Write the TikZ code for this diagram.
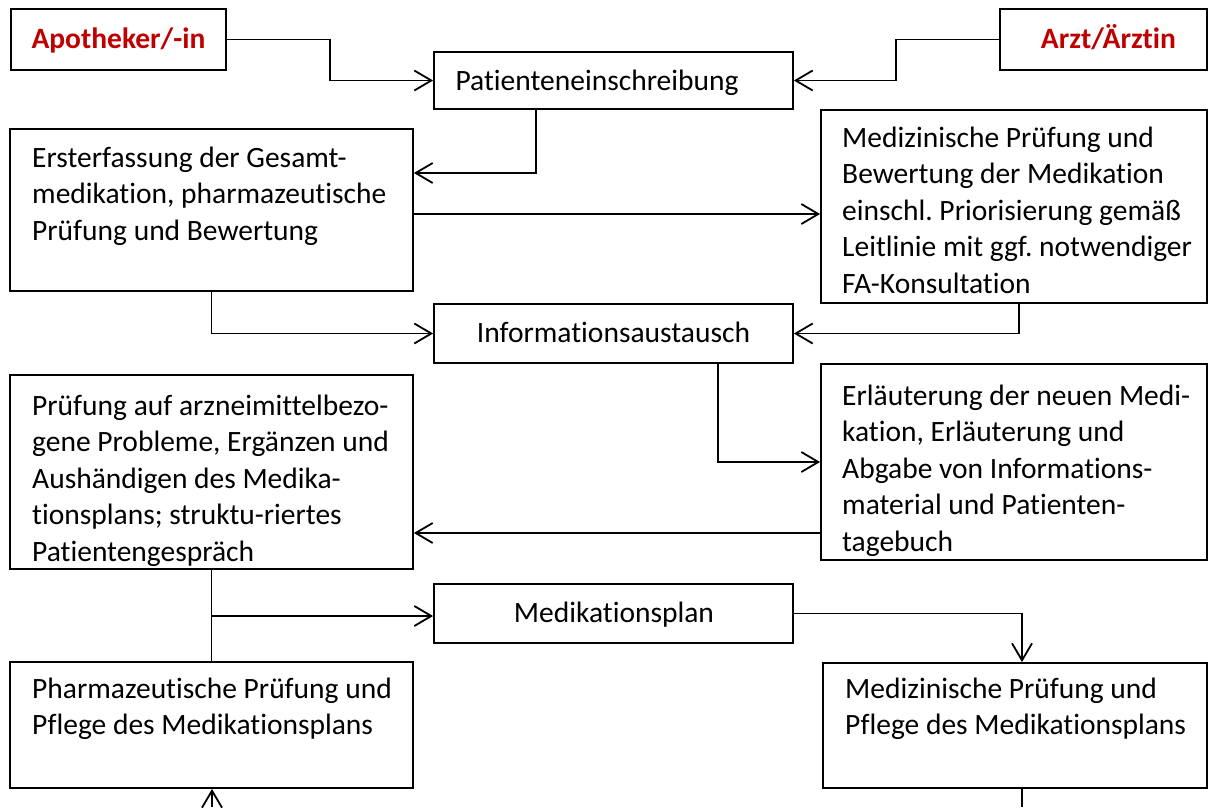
\documentclass[tikz,border=0pt]{standalone}
\usepackage{fontspec}
\setmainfont[Ligatures=NoCommon]{Carlito}
\usetikzlibrary{arrows.meta}
\definecolor{rolered}{HTML}{C00000}
\frenchspacing
\newcommand\blocktext[1]{\parbox[t]{400pt}{\raggedright #1}}
\begin{document}
\begin{tikzpicture}[x=1pt,y=-1pt,
  box/.style={draw, line width=1.8pt, rectangle, inner sep=0pt},
  txt/.style={inner sep=0pt, font=\fontsize{29.5}{36.5}\selectfont},
  role/.style={txt, anchor=base, text=rolered, font=\fontsize{29.5}{36.5}\selectfont\bfseries},
  conn/.style={line width=1.8pt},
  arr/.style={conn, -{Straight Barb[length=17pt,width=20pt,line width=1.8pt]}}]

% canvas
\fill[white] (0,0) rectangle (1208,807);
\useasboundingbox (0,0) rectangle (1208,807);

% boxes
\node[box, minimum width=215pt, minimum height=61pt]  (apo)   at (118.5,39.5) {};
\node[box, minimum width=207pt, minimum height=61pt]  (arzt)  at (1103.5,39.5) {};
\node[box, minimum width=359pt, minimum height=57pt]  (pat)   at (613.5,80.5) {};
\node[box, minimum width=403pt, minimum height=162pt] (ers)   at (211.5,210) {};
\node[box, minimum width=386pt, minimum height=193pt] (med)   at (1014,206.5) {};
\node[box, minimum width=359pt, minimum height=59pt]  (info)  at (613.5,333.5) {};
\node[box, minimum width=403pt, minimum height=194pt] (pru)   at (211.5,472) {};
\node[box, minimum width=386pt, minimum height=196pt] (erl)   at (1014,462) {};
\node[box, minimum width=359pt, minimum height=59pt]  (mplan) at (613.5,613.5) {};
\node[box, minimum width=403pt, minimum height=126pt] (pharm) at (211.5,725) {};
\node[box, minimum width=384pt, minimum height=125pt] (mpfl)  at (1015,725.5) {};

% texts
\node[role] (apo-t)  at (118.5,48) {Apotheker/-in};
\node[role] (arzt-t) at (1108.5,48) {Arzt/Ärztin};
\node[txt, anchor=base] (pat-t)   at (597,90.7) {Patienteneinschreibung};
\node[txt, anchor=base] (info-t)  at (613.5,342.7) {Informationsaustausch};
\node[txt, anchor=base] (mplan-t) at (614,622.7) {Medikationsplan};

\node[txt, anchor=base west] (ers-t) at (32,167) {\blocktext{Ersterfassung der Gesamt-\\
  medikation, pharmazeutische\\ Prüfung und Bewertung}};
\node[txt, anchor=base west] (med-t) at (842,147) {\blocktext{Medizinische Prüfung und\\
  Bewertung der Medikation\\ einschl. Priorisierung gemäß\\
  Leitlinie mit ggf. notwendiger\\ FA-Konsultation}};
\node[txt, anchor=base west] (erl-t) at (842,405) {\blocktext{Erläuterung der neuen Medi-\\
  kation, Erläuterung und\\ Abgabe von Informations-\\
  material und Patienten-\\ tagebuch}};
\node[txt, anchor=base west] (pru-t) at (32,415) {\blocktext{Prüfung auf arzneimittelbezo-\\
  gene Probleme, Ergänzen und\\ Aushändigen des Medika-\\
  tionsplans; struktu-riertes\\ Patientengespräch}};
\node[txt, anchor=base west] (pharm-t) at (32,698) {\blocktext{Pharmazeutische Prüfung und\\
  Pflege des Medikationsplans}};
\node[txt, anchor=base west] (mpfl-t) at (845,698) {\blocktext{Medizinische Prüfung und\\
  Pflege des Medikationsplans}};

% junction points
\coordinate (j1) at (330,80.5);
\coordinate (j2) at (896,80.5);
\coordinate (j3) at (536,173);
\coordinate (b1) at (212,807);
\coordinate (b2) at (1022,807);

% connectors
\draw[arr] (apo.east) -| (j1) -- (pat.west);
\draw[arr] (arzt.west) -| (j2) -- (pat.east);
\draw[arr] (j3 |- pat.south) -- (j3) -- (j3 -| ers.east);
\draw[arr] (ers.east |- 0,214) -- (med.west |- 0,214);
\draw[arr] (ers.south) |- (info.west);
\draw[arr] (med.south -| 1019,0) |- (info.east);
\draw[arr] (info.south -| 718,0) |- (erl.west |- 0,462);
\draw[arr] (erl.west |- 0,533) -- (pru.east |- 0,533);
\draw[conn] (pru.south) -- (pharm.north);
\draw[arr] (pru.south |- 0,616) -- (mplan.west |- 0,616);
\draw[arr] (mplan.east) -| (mpfl.north -| 1022,0);
\draw[arr] (b1) -- (pharm.south -| b1);
\draw[conn] (mpfl.south -| b2) -- (b2);
\end{tikzpicture}
\end{document}
